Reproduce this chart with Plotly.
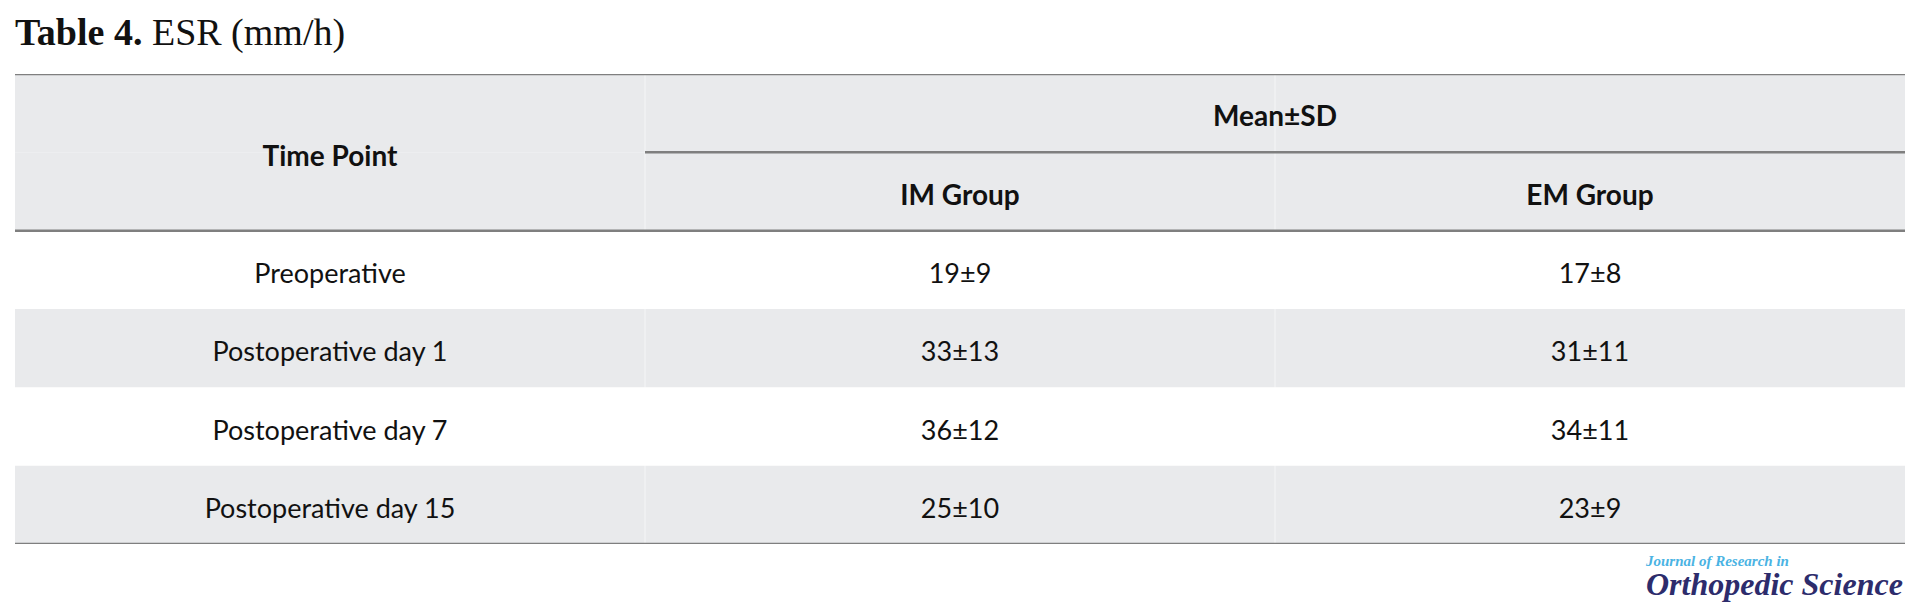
import plotly.graph_objects as go

# table content
time_points = ["Preoperative", "Postoperative day 1", "Postoperative day 7", "Postoperative day 15"]
im_mean = [19, 33, 36, 25]
im_sd = [9, 13, 12, 10]
em_mean = [17, 31, 34, 23]
em_sd = [8, 11, 11, 9]
group_labels = ["IM Group", "EM Group"]
first_col_label = "Time Point"
span_label = "Mean±SD"

HEADER_ROWS = 2
GRAY = "#e9eaec"
RULE = "#7f7f7f"
BODY_FONT = "Lato"
TEXT_DY = 0.08  # Lato sits a bit high compared with the original font

n_rows = HEADER_ROWS + len(time_points)
im_cells = [f"{m}±{s}" for m, s in zip(im_mean, im_sd)]
em_cells = [f"{m}±{s}" for m, s in zip(em_mean, em_sd)]
body_rows = list(range(HEADER_ROWS, n_rows))

fig = go.Figure()

# body cells
fig.add_trace(
    go.Scatter(
        x=[0] * len(time_points) + [1] * len(im_cells) + [2] * len(em_cells),
        y=[r + TEXT_DY for r in body_rows] * 3,
        text=time_points + im_cells + em_cells,
        mode="text",
        textposition="middle center",
        textfont=dict(family=BODY_FONT, size=27, color="#111111"),
        hoverinfo="skip",
        showlegend=False,
    )
)

# header cells
header_rows = [(HEADER_ROWS - 1) / 2, 0, 1, 1]
fig.add_trace(
    go.Scatter(
        x=[0, 1.5, 1, 2],
        y=[r + TEXT_DY for r in header_rows],
        text=[first_col_label, span_label] + group_labels,
        mode="text",
        textposition="middle center",
        textfont=dict(family=BODY_FONT, size=28, color="#111111", weight="bold"),
        hoverinfo="skip",
        showlegend=False,
    )
)

shapes = []
# shaded header + alternate body rows
shaded = list(range(HEADER_ROWS)) + [r for r in body_rows if (r - HEADER_ROWS) % 2 == 1]
for r in shaded:
    shapes.append(dict(type="rect", xref="x", yref="y", x0=-0.5, x1=2.5, y0=r - 0.5, y1=r + 0.5,
                       fillcolor=GRAY, line=dict(width=0), layer="below"))
# faint column separators
for c in (0.5, 1.5):
    shapes.append(dict(type="line", xref="x", yref="y", x0=c, x1=c, y0=-0.5, y1=n_rows - 0.5,
                       line=dict(color="rgba(255,255,255,0.6)", width=1), layer="below"))
# horizontal rules
for y0, xs in [(-0.5, -0.5), (0.5, 0.5), (HEADER_ROWS - 0.5, -0.5), (n_rows - 0.5, -0.5)]:
    shapes.append(dict(type="line", xref="x", yref="y", x0=xs, x1=2.5, y0=y0, y1=y0,
                       line=dict(color=RULE, width=2.5)))

logo = (
    "<span style='font-size:15px;color:#4ab3e3'><i><b>Journal of Research in</b></i></span><br>"
    "<span style='font-size:32px'><i><b>Orthopedic Science</b></i></span>"
)

# the page body adds an 8px margin, so the figure is laid out 8px up/left
fig.update_layout(
    width=1922,
    height=607,
    margin=dict(l=7, r=25, t=66, b=71),
    paper_bgcolor="white",
    plot_bgcolor="white",
    shapes=shapes,
    title=dict(
        text="<b>Table 4.</b> ESR (mm/h)",
        x=7 / 1922,
        xanchor="left",
        xref="container",
        y=1 - 24 / 607,
        yanchor="middle",
        font=dict(family="Liberation Serif", size=38, color="#111111"),
    ),
    annotations=[
        dict(text=logo, xref="paper", yref="paper", x=1.0, y=-0.127,
             xanchor="right", yanchor="bottom", align="left", showarrow=False,
             font=dict(family="Liberation Serif", size=22, color="#2d2c6c")),
    ],
)
fig.update_xaxes(range=[-0.5, 2.5], visible=False, fixedrange=True)
fig.update_yaxes(range=[n_rows - 0.5, -0.5], visible=False, fixedrange=True)

fig.write_html("out.html")
